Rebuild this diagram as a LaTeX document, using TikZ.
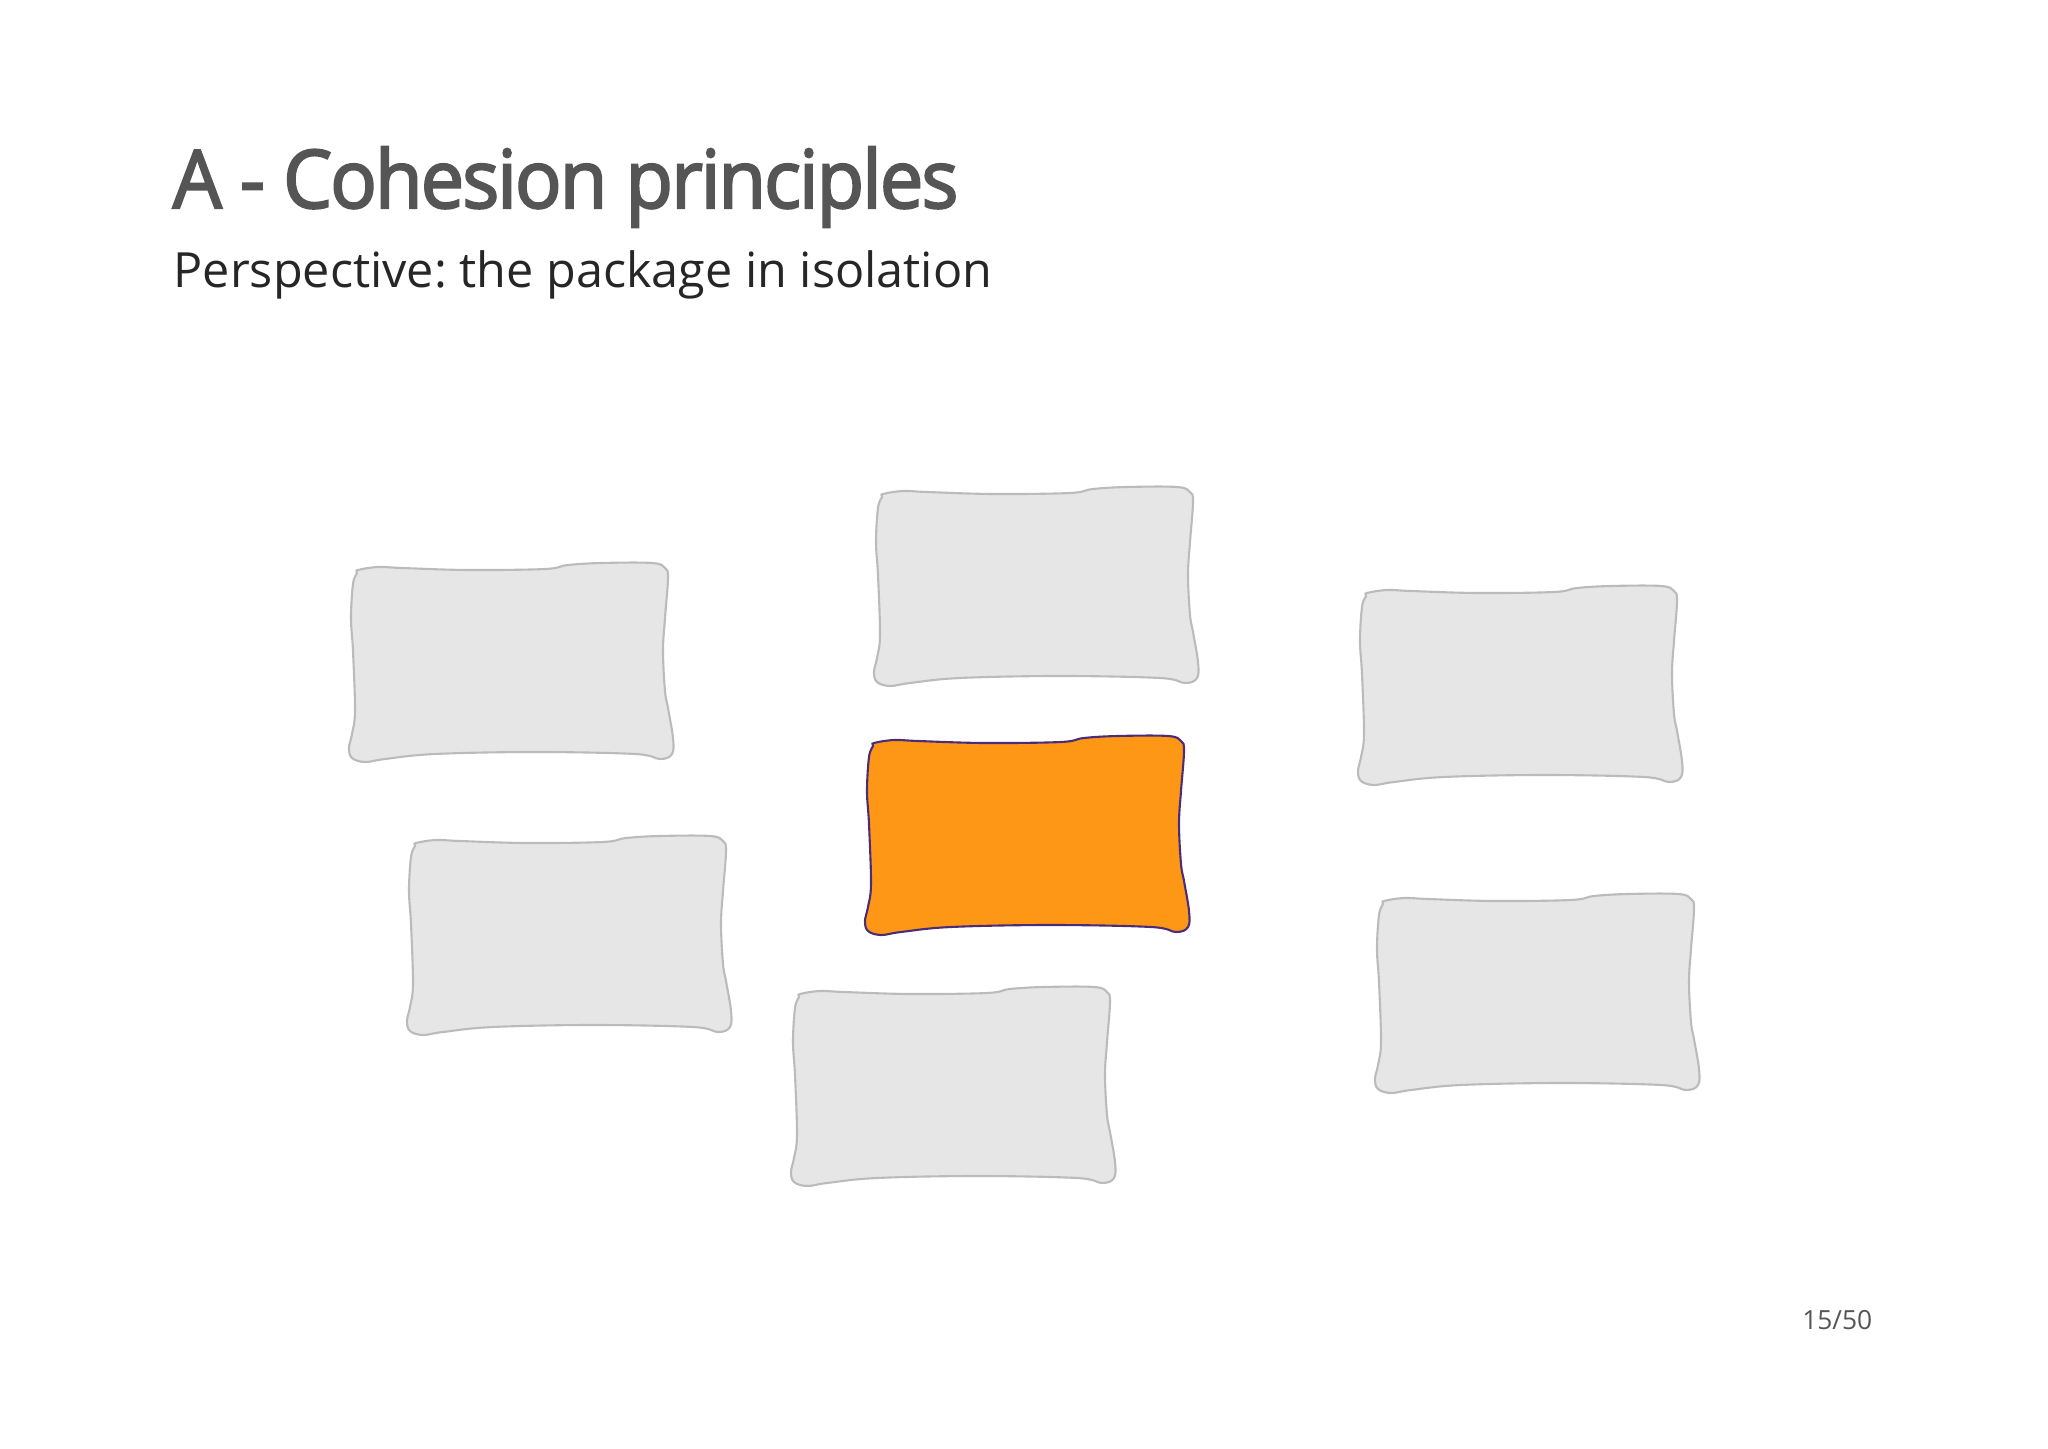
\documentclass[tikz,border=0pt]{standalone}
\usepackage{fontspec}
\setmainfont{Open Sans}
\newfontfamily\titlefont{Open Sans}[FakeBold=2.5, FakeStretch=0.96, LetterSpace=-2.5]
\usepackage{tikz}
\frenchspacing

\definecolor{boxgray}{HTML}{E6E6E6}
\definecolor{linegray}{HTML}{BBBBBB}
\definecolor{pkgorange}{HTML}{FF9716}
\definecolor{pkgline}{HTML}{4B2C78}
\definecolor{titlegray}{HTML}{555555}
\definecolor{subgray}{HTML}{262626}

\begin{document}
\begin{tikzpicture}[x=0.01cm,y=-0.01cm]
                \def\blob{(11,8) (31,5) (55,6) (121,8) (198,7) (221,3) (255,1) (305,1) (318,6) (321,16) (318,56) (316,89) (318,129) (321,146) (326,176) (325,192) (313,197) (288,192) (188,190) (88,192) (38,197) (18,200) (5,196) (2,186) (5,172) (8,149) (6,89) (4,56) (6,22) (10,11)}
                \tikzset{other/.style={fill=boxgray, draw=linegray, line width=0.6pt},
                         mine/.style={fill=pkgorange, draw=pkgline, line width=0.6pt}}

                \useasboundingbox (0,0) rectangle (2048,1449);

                \node[anchor=base west, inner sep=0, text=titlegray, font=\titlefont\fontsize{23}{27}\selectfont] (title) at (172,208) {A - Cohesion principles};
                \node[anchor=base west, inner sep=0, text=subgray, font=\fontsize{13.8}{17}\selectfont] (subtitle) at (173,288) {Perspective: the package in isolation};

                \draw[other, shift={(347,562)}] plot[smooth cycle, tension=0.6] coordinates {\blob};
                \draw[other, shift={(872,486)}] plot[smooth cycle, tension=0.6] coordinates {\blob};
                \draw[other, shift={(1356,585)}] plot[smooth cycle, tension=0.6] coordinates {\blob};
                \draw[other, shift={(405,835)}] plot[smooth cycle, tension=0.6] coordinates {\blob};
                \draw[other, shift={(789,986)}] plot[smooth cycle, tension=0.6] coordinates {\blob};
                \draw[other, shift={(1373,893)}] plot[smooth cycle, tension=0.6] coordinates {\blob};

                \draw[mine, shift={(863,735)}] plot[smooth cycle, tension=0.6] coordinates {\blob};

                \node[anchor=base east, inner sep=0, text=titlegray, font=\fontsize{7.5}{9}\selectfont] (pagenum) at (1873,1329) {15/50};
\end{tikzpicture}
\end{document}
